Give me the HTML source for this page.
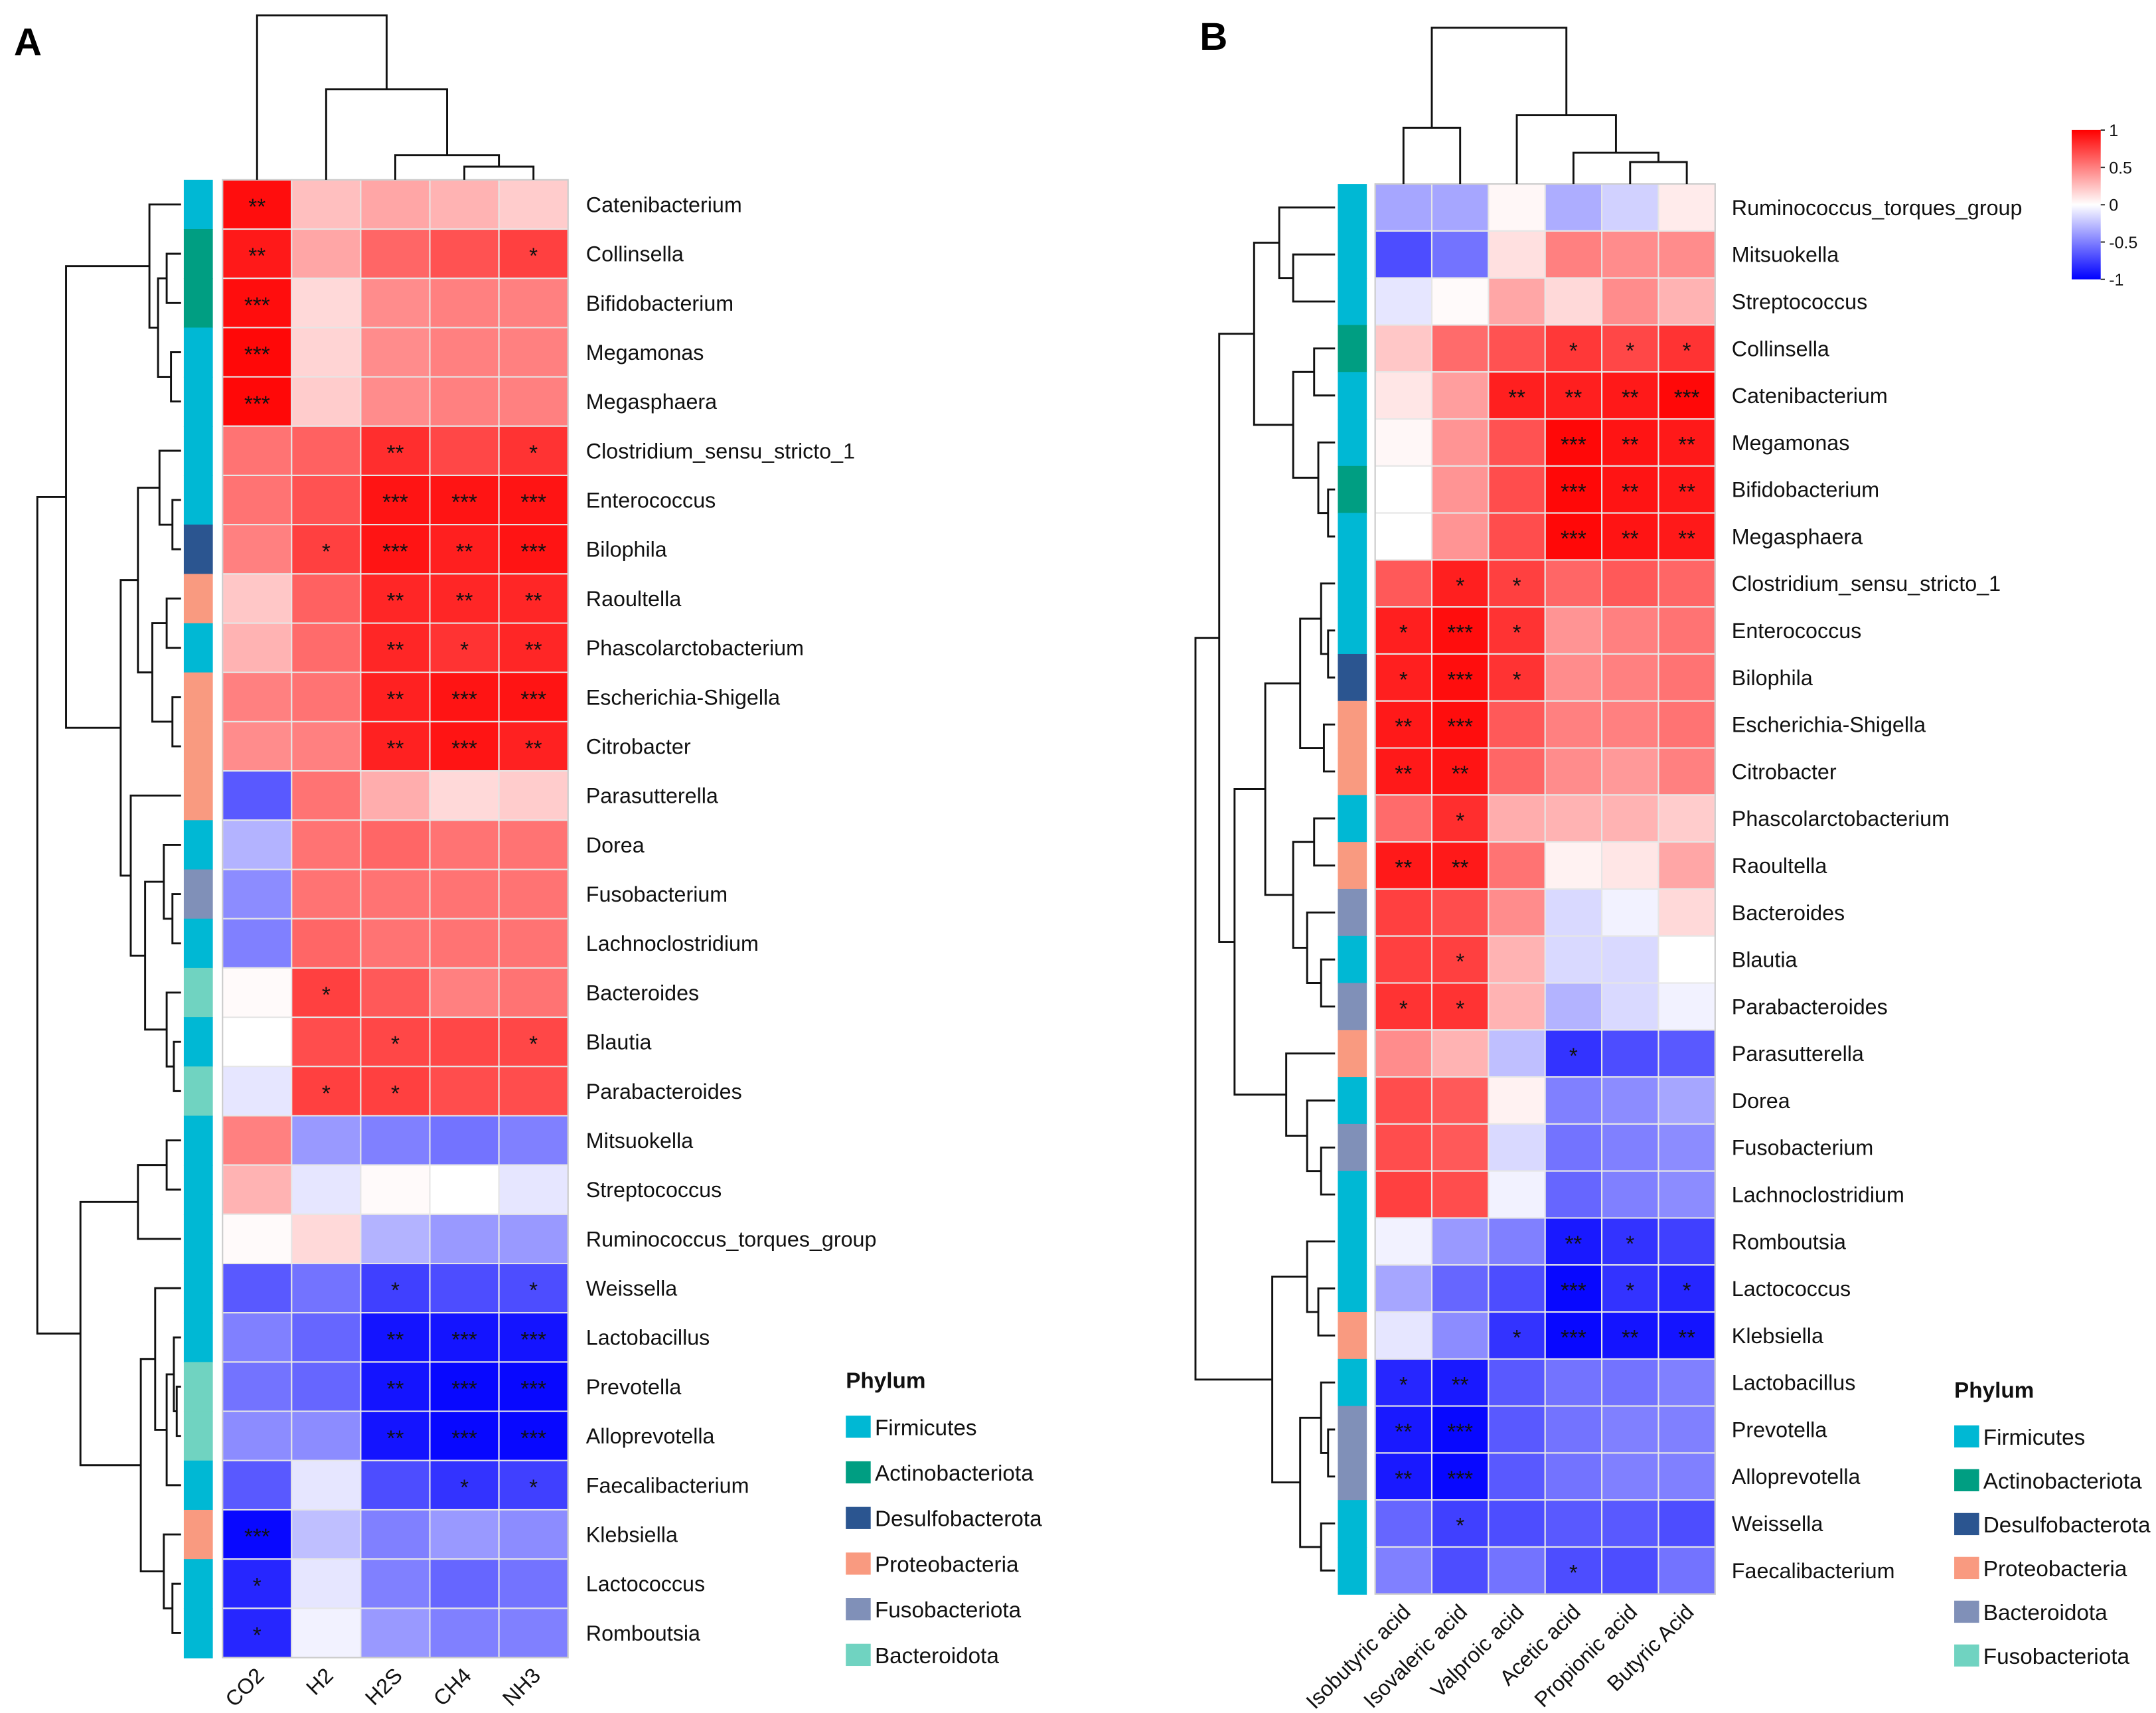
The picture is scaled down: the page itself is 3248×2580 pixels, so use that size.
<!DOCTYPE html>
<html><head><meta charset="utf-8"><style>
html,body{margin:0;padding:0;background:#fff}
svg{display:block;font-family:"Liberation Sans",Arial,sans-serif}
</style></head><body>
<svg id="root" xmlns="http://www.w3.org/2000/svg" width="3248" height="2580" viewBox="0 0 1560 1239">
<rect width="1560" height="1239" fill="#fff"/>
<g id="pa"></g>
<g id="pb"></g>
</svg>
<script>
// ---------- DATA ----------
const aRows = ["Catenibacterium","Collinsella","Bifidobacterium","Megamonas","Megasphaera","Clostridium_sensu_stricto_1","Enterococcus","Bilophila","Raoultella","Phascolarctobacterium","Escherichia-Shigella","Citrobacter","Parasutterella","Dorea","Fusobacterium","Lachnoclostridium","Bacteroides","Blautia","Parabacteroides","Mitsuokella","Streptococcus","Ruminococcus_torques_group","Weissella","Lactobacillus","Prevotella","Alloprevotella","Faecalibacterium","Klebsiella","Lactococcus","Romboutsia"];
const aCols = ["CO2","H2","H2S","CH4","NH3"];
const aVals = [
[0.95,0.25,0.35,0.3,0.2],[0.9,0.35,0.6,0.68,0.75],[0.95,0.15,0.45,0.5,0.5],[0.97,0.17,0.45,0.5,0.5],[0.97,0.2,0.45,0.5,0.5],
[0.55,0.62,0.82,0.72,0.8],[0.55,0.68,0.92,0.92,0.92],[0.5,0.75,0.92,0.88,0.92],[0.22,0.62,0.85,0.85,0.85],[0.3,0.58,0.85,0.8,0.85],
[0.5,0.55,0.87,0.92,0.92],[0.45,0.5,0.87,0.92,0.87],[-0.65,0.55,0.32,0.15,0.2],[-0.3,0.55,0.6,0.55,0.55],[-0.45,0.55,0.55,0.55,0.55],
[-0.5,0.6,0.55,0.55,0.55],[0.02,0.75,0.65,0.5,0.55],[0.0,0.7,0.72,0.72,0.72],[-0.1,0.75,0.75,0.7,0.7],[0.5,-0.4,-0.5,-0.55,-0.5],
[0.3,-0.1,0.02,0.0,-0.1],[0.02,0.15,-0.3,-0.4,-0.4],[-0.65,-0.55,-0.75,-0.7,-0.7],[-0.5,-0.6,-0.92,-0.92,-0.92],[-0.55,-0.6,-0.92,-0.97,-0.97],
[-0.45,-0.45,-0.92,-0.97,-0.97],[-0.65,-0.1,-0.7,-0.8,-0.75],[-0.97,-0.25,-0.5,-0.4,-0.45],[-0.85,-0.1,-0.5,-0.6,-0.55],[-0.85,-0.05,-0.4,-0.5,-0.5]];
const aStars = [
["**","","","",""],["**","","","","*"],["***","","","",""],["***","","","",""],["***","","","",""],
["","","**","","*"],["","","***","***","***"],["","*","***","**","***"],["","","**","**","**"],["","","**","*","**"],
["","","**","***","***"],["","","**","***","**"],["","","","",""],["","","","",""],["","","","",""],
["","","","",""],["","*","","",""],["","","*","","*"],["","*","*","",""],["","","","",""],
["","","","",""],["","","","",""],["","","*","","*"],["","","**","***","***"],["","","**","***","***"],
["","","**","***","***"],["","","","*","*"],["***","","","",""],["*","","","",""],["*","","","",""]];
const aPhylum = ["F","A","A","F","F","F","F","D","P","F","P","P","P","F","U","F","B","F","B","F","F","F","F","F","B","B","F","P","F","F"];

const bRows = ["Ruminococcus_torques_group","Mitsuokella","Streptococcus","Collinsella","Catenibacterium","Megamonas","Bifidobacterium","Megasphaera","Clostridium_sensu_stricto_1","Enterococcus","Bilophila","Escherichia-Shigella","Citrobacter","Phascolarctobacterium","Raoultella","Bacteroides","Blautia","Parabacteroides","Parasutterella","Dorea","Fusobacterium","Lachnoclostridium","Romboutsia","Lactococcus","Klebsiella","Lactobacillus","Prevotella","Alloprevotella","Weissella","Faecalibacterium"];
const bCols = ["Isobutyric acid","Isovaleric acid","Valproic acid","Acetic acid","Propionic acid","Butyric Acid"];
const bVals = [
[-0.35,-0.35,0.03,-0.32,-0.18,0.08],[-0.7,-0.55,0.12,0.5,0.45,0.45],[-0.1,0.02,0.35,0.15,0.45,0.3],[0.22,0.58,0.68,0.78,0.72,0.8],[0.1,0.38,0.88,0.88,0.9,0.97],
[0.03,0.42,0.68,0.97,0.92,0.9],[0.0,0.42,0.7,0.97,0.92,0.9],[0.0,0.42,0.7,0.97,0.92,0.9],[0.65,0.88,0.75,0.6,0.65,0.6],[0.88,0.95,0.8,0.42,0.5,0.55],
[0.88,0.95,0.8,0.45,0.5,0.55],[0.9,0.95,0.65,0.5,0.5,0.55],[0.9,0.92,0.6,0.45,0.4,0.5],[0.58,0.82,0.32,0.3,0.3,0.2],[0.9,0.9,0.55,0.05,0.1,0.35],
[0.75,0.7,0.45,-0.15,-0.05,0.15],[0.75,0.75,0.3,-0.15,-0.15,0.0],[0.8,0.8,0.3,-0.3,-0.15,-0.05],[0.45,0.3,-0.25,-0.8,-0.7,-0.65],[0.7,0.65,0.05,-0.5,-0.45,-0.35],
[0.7,0.65,-0.15,-0.55,-0.5,-0.45],[0.75,0.7,-0.05,-0.6,-0.5,-0.45],[-0.05,-0.4,-0.5,-0.9,-0.8,-0.75],[-0.35,-0.6,-0.7,-0.97,-0.8,-0.85],[-0.1,-0.45,-0.8,-0.97,-0.92,-0.92],
[-0.85,-0.9,-0.65,-0.55,-0.55,-0.5],[-0.9,-0.97,-0.65,-0.55,-0.5,-0.5],[-0.9,-0.97,-0.65,-0.55,-0.5,-0.5],[-0.6,-0.75,-0.7,-0.65,-0.65,-0.7],[-0.5,-0.7,-0.55,-0.7,-0.7,-0.55]];
const bStars = [
["","","","","",""],["","","","","",""],["","","","","",""],["","","","*","*","*"],["","","**","**","**","***"],
["","","","***","**","**"],["","","","***","**","**"],["","","","***","**","**"],["","*","*","","",""],["*","***","*","","",""],
["*","***","*","","",""],["**","***","","","",""],["**","**","","","",""],["","*","","","",""],["**","**","","","",""],
["","","","","",""],["","*","","","",""],["*","*","","","",""],["","","","*","",""],["","","","","",""],
["","","","","",""],["","","","","",""],["","","","**","*",""],["","","","***","*","*"],["","","*","***","**","**"],
["*","**","","","",""],["**","***","","","",""],["**","***","","","",""],["","*","","","",""],["","","","*","",""]];
const bPhylum = ["F","F","F","A","F","F","A","F","F","F","D","P","P","F","P","G","F","G","P","F","U","F","F","F","P","F","G","G","F","F"];

// tree nodes: [height, left, right]; leaves are row/col indices
const aRowTree = [1.0,
  [0.8,[0.22,0,[0.16,[0.1,1,2],[0.07,3,4]]],
       [0.42,[0.3,[0.15,5,[0.06,6,7]],[0.2,[0.1,8,9],[0.06,10,11]]],
             [0.35,12,[0.25,[0.12,13,[0.06,14,15]],[0.1,16,[0.05,17,18]]]]]],
  [0.7,[0.3,[0.1,19,20],21],[0.28,[0.18,22,[0.1,[0.05,23,[0.03,24,25]],26]],[0.12,27,[0.06,28,29]]]]];
const aColTree = [1.0,0,[0.55,1,[0.15,2,[0.08,3,4]]]];
const bRowTree = [1.0,
  [0.83,[0.58,[0.4,0,[0.3,1,2]],[0.3,[0.15,3,4],[0.12,5,[0.05,6,7]]]],
        [0.72,[0.5,[0.25,[0.1,8,[0.05,9,10]],[0.08,11,12]],[0.3,[0.15,13,14],[0.2,15,[0.1,16,17]]]],
              [0.35,18,[0.2,19,[0.1,20,21]]]]],
  [0.45,[0.2,22,[0.12,23,24]],[0.25,[0.1,25,[0.05,26,27]],[0.1,28,29]]]];
const bColTree = [1.0,[0.36,0,1],[0.44,2,[0.2,3,[0.14,4,5]]]];

const phylumColors = {F:"#00b8d4",A:"#009e82",D:"#2b5590",P:"#f99a80",U:"#8090b8",B:"#70d3c1",G:"#8090b8"};
const aLegendLabels = ["Firmicutes","Actinobacteriota","Desulfobacterota","Proteobacteria","Fusobacteriota","Bacteroidota"];
const aLegendKeys = ["F","A","D","P","U","B"];
const bLegendLabels = ["Firmicutes","Actinobacteriota","Desulfobacterota","Proteobacteria","Bacteroidota","Fusobacteriota"];
const bLegendKeys = ["F","A","D","P","G","B"];
const cbTicks = [1,0.5,0,-0.5,-1];

// ---------- DRAW ----------
const NS="http://www.w3.org/2000/svg";
function mk(tag, parent, attrs){const e=document.createElementNS(NS,tag);for(const k in attrs)e.setAttribute(k,attrs[k]);parent.appendChild(e);return e;}
function color(v){v=Math.max(-1,Math.min(1,v));let r,g,b;
  if(v>=0){r=255;g=Math.round(255*(1-v));b=g;}else{b=255;r=Math.round(255*(1+v));g=r;}
  return `rgb(${r},${g},${b})`;}

function panel(g, cfg){
  const {rows,cols,vals,stars,phy,x0,x1,y0,y1,rowTree,colTree,dendL,colTop,barX,barW,labelX,fs} = cfg;
  const cw=(x1-x0)/cols.length, rh=(y1-y0)/rows.length;
  const xS=j=>x0+j*cw, yS=i=>y0+i*rh;
  rows.forEach((r,i)=>{
    cols.forEach((c,j)=>{
      const rc=mk("rect",g,{x:xS(j),y:yS(i),width:cw,height:rh,fill:color(vals[i][j]),stroke:"#e6e6e6","stroke-width":1});
      
      
      if(stars[i][j]){const t=mk("text",g,{x:xS(j)+cw/2,y:yS(i)+rh/2+7,"text-anchor":"middle","font-size":16,fill:"#111"});t.textContent=stars[i][j];
        
        }
    });
    const pr=mk("rect",g,{x:barX,y:yS(i),width:barW,height:rh+0.5,fill:phylumColors[phy[i]]});
    
    
    const lt=mk("text",g,{x:labelX,y:yS(i)+rh/2+5.5,"font-size":fs,fill:"#111"});lt.textContent=r;
    
    
  });
  mk("rect",g,{x:x0,y:y0,width:x1-x0,height:y1-y0,fill:"none",stroke:"#ccc","stroke-width":1});
  const rX=h=>barX-2-h*(barX-2-dendL);
  const dg=mk("g",g,{stroke:"#111","stroke-width":1.4,fill:"none"});
  
  
  function rowD(n){ if(typeof n==="number") return {p:yS(n)+rh/2,x:barX-2};
    const a=rowD(n[1]),b=rowD(n[2]),x=rX(n[0]);
    mk("path",dg,{d:`M${a.x},${a.p}H${x}V${b.p}H${b.x}`});
    return {p:(a.p+b.p)/2,x:x};}
  rowD(rowTree);
  const cY=h=>y0-h*(y0-colTop);
  const cg=mk("g",g,{stroke:"#111","stroke-width":1.4,fill:"none"});
  
  
  function colD(n){ if(typeof n==="number") return {p:xS(n)+cw/2,y:y0};
    const a=colD(n[1]),b=colD(n[2]),y=cY(n[0]);
    mk("path",cg,{d:`M${a.p},${a.y}V${y}H${b.p}V${b.y}`});
    return {p:(a.p+b.p)/2,y:y};}
  colD(colTree);
  cols.forEach((c,j)=>{const cx=xS(j)+cw/2+6, cy=y1+14;
    const t=mk("text",g,{x:cx,y:cy,"font-size":fs,"text-anchor":"end",transform:`rotate(-45 ${cx} ${cy})`,fill:"#111"});t.textContent=c;
    
    });
}
function legend(g,x,y,labels,keys,step){
  const t=mk("text",g,{x:x,y:y,"font-size":16,"font-weight":"bold",fill:"#111"});t.textContent="Phylum";
  
  
  labels.forEach((l,i)=>{const yy=y+20+i*step;
    const r=mk("rect",g,{x:x,y:yy,width:18,height:16,fill:phylumColors[keys[i]]});
    
    
    const tt=mk("text",g,{x:x+21,y:yy+14,"font-size":16,fill:"#111"});tt.textContent=l;
    
    });
}
const pa=document.getElementById("pa"), pb=document.getElementById("pb");
const la=mk("text",pa,{x:10,y:40,"font-size":28,"font-weight":"bold"});la.textContent="A";


panel(pa,{rows:aRows,cols:aCols,vals:aVals,stars:aStars,phy:aPhylum,x0:161,x1:411,y0:130,y1:1199,rowTree:aRowTree,colTree:aColTree,dendL:27,colTop:11,barX:133,barW:21,labelX:424,fs:15.5});
legend(pa,612,1004,aLegendLabels,aLegendKeys,33);
const lb=mk("text",pb,{x:868,y:36,"font-size":28,"font-weight":"bold"});lb.textContent="B";


panel(pb,{rows:bRows,cols:bCols,vals:bVals,stars:bStars,phy:bPhylum,x0:995,x1:1241,y0:133,y1:1153,rowTree:bRowTree,colTree:bColTree,dendL:865,colTop:20,barX:968,barW:21,labelX:1253,fs:15.5});
legend(pb,1414,1011,bLegendLabels,bLegendKeys,31.7);
const defs=mk("defs",pb,{});const lg=mk("linearGradient",defs,{id:"cbg",x1:0,y1:0,x2:0,y2:1});
[[0,"#ff0000"],[0.5,"#ffffff"],[1,"#0000ff"]].forEach(s=>mk("stop",lg,{offset:s[0],"stop-color":s[1]}));
const cbx=1499, cbt=94, cbb=202;
const cb=mk("rect",pb,{x:cbx,y:cbt,width:21,height:cbb-cbt,fill:"url(#cbg)"});


cbTicks.forEach(v=>{const y=cbt+(1-v)/2*(cbb-cbt);
  mk("line",pb,{x1:cbx+21,x2:cbx+24,y1:y,y2:y,stroke:"#333","stroke-width":1});
  const t=mk("text",pb,{x:cbx+27,y:y+4.5,"font-size":12,fill:"#111"});t.textContent=String(v);
  
  });
</script>
</body></html>
